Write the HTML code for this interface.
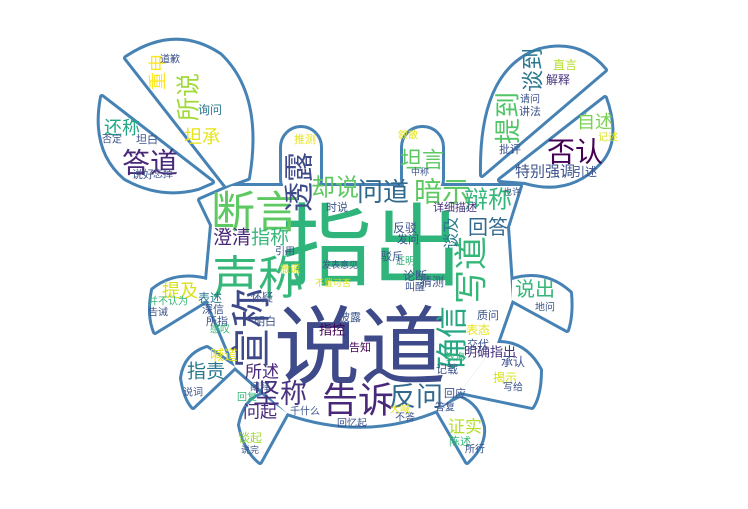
<!DOCTYPE html>
<html><head><meta charset="utf-8">
<style>
html,body{margin:0;padding:0;background:#fff;width:748px;height:509px;overflow:hidden}
svg{display:block}
text{font-family:"Liberation Sans","Noto Sans CJK SC","WenQuanYi Zen Hei",sans-serif;dominant-baseline:central;text-anchor:middle}
</style></head>
<body>
<svg id="cloud" width="748" height="509" viewBox="0 0 748 509">
<defs>
<g id="crab">
<path d="M232,186 L520,186 L507,227 L512,300 L497,343 L460,392 L437,410 Q365,440 287,413 L235,367 L207,300 L207,280 L212,225 L200,200 Z"/>
<rect x="282" y="128" width="38" height="70" rx="19"/>
<rect x="403" y="128" width="39" height="70" rx="19"/>
<path d="M226,186 L126,58 Q175,25 220,55 Q262,95 248,178 Z"/>
<path d="M212,182 L102,97 Q92,150 125,178 Q160,198 198,188 Z"/>
<path d="M482,175 Q480,70 540,50 Q580,40 605,70 Z"/>
<path d="M500,180 L605,98 Q620,140 600,162 Q570,195 525,182 Z"/>
<path d="M207,280 Q175,272 153,290 Q148,315 155,332 L207,300 Z"/>
<path d="M207,348 Q185,355 182,378 Q185,398 193,407 L235,367 Z"/>
<path d="M262,395 Q245,400 240,425 Q245,450 260,462 L287,413 Z"/>
<path d="M437,410 L467,462 Q485,445 483,427 Q478,405 460,398 Z"/>
<path d="M497,343 Q525,342 540,370 Q540,395 532,407 L460,392 Z"/>
<path d="M512,280 Q545,270 570,293 Q572,315 567,330 L512,300 Z"/>
</g>
</defs>
<g stroke="#4682b4" stroke-width="6" stroke-linejoin="round" fill="#4682b4"><use href="#crab"/></g>
<g fill="#fff"><use href="#crab"/></g>
<g id="words"></g>
</svg>
<script>
var words=[
["指出",372,248,90,"#2fb47c",0],["说道",360,348,86,"#3e4a89",0],["声称",258,278,46,"#35b779",0],
["断言",255,213,44,"#5ec962",0],["宣称",252,328,40,"#3e4989",1],["告诉",358,400,36,"#482878",0],
["坚称",280,394,27,"#46327e",0],["反问",416,397,27,"#31688e",0],["确信",452,338,32,"#26a784",1],
["写道",472,270,34,"#35b779",1],["透露",300,182,30,"#3e4a89",1],["问道",383,192,26,"#31688e",0],
["却说",335,188,24,"#5ec962",0],["暗示",442,192,28,"#5ec962",0],["辩称",488,200,24,"#35b779",0],
["坦言",422,160,22,"#5ec962",0],["提到",508,118,26,"#52c569",1],["谈到",533,70,22,"#2a788e",1],
["否认",575,152,28,"#440154",0],["自述",595,122,18,"#7ad151",0],["特别强调",545,172,15,"#3b528b",0],
["回答",488,228,20,"#31688e",0],["说出",535,290,20,"#35b779",0],["所说",189,97,24,"#a0da39",1],
["重申",158,72,18,"#fde725",1],["坦承",202,137,18,"#e5e419",0],["还称",122,128,18,"#22a884",0],
["答道",150,163,28,"#482878",0],["澄清",232,238,19,"#482878",0],["指称",270,238,19,"#35b779",0],
["提及",180,291,18,"#d8e219",0],["指责",206,372,19,"#2a788e",0],["所述",262,372,17,"#482878",0],
["证实",465,427,17,"#b5de2b",0],["明确指出",490,352,13,"#46327e",0],["喊道",224,355,14,"#e5e419",0],
["问起",260,412,17,"#482878",0],["谈及",452,233,16,"#2a788e",1],["解释",558,80,12,"#46327e",0],
["直言",565,65,12,"#b5de2b",0],["批评",510,150,11,"#3b528b",0],["引述",585,172,12,"#3b528b",0],
["详细描述",455,208,11,"#46327e",0],["反驳",405,228,12,"#3b528b",0],["发问",408,240,11,"#3b528b",0],
["驳斥",392,257,11,"#3b528b",0],["证明",405,262,10,"#35b779",0],["论断",415,276,12,"#3b528b",0],
["猜测",432,282,12,"#3b528b",0],["叫醒",415,288,10,"#3b528b",0],["表述",210,298,12,"#2a788e",0],
["并不认为",168,302,10,"#35b779",0],["告诫",158,313,10,"#3b528b",0],["深信",213,310,11,"#3b528b",0],
["所指",217,322,11,"#3b528b",0],["怀疑",262,298,11,"#3b528b",0],["明白",265,322,11,"#3b528b",0],
["披露",350,318,11,"#3b528b",0],["指控",332,330,13,"#440154",0],["告知",360,348,11,"#440154",0],
["表态",478,330,12,"#e5e419",0],["交代",478,345,11,"#3b528b",0],["质问",488,316,11,"#3b528b",0],
["承认",513,362,12,"#3b528b",0],["揭示",505,378,12,"#d8e219",0],["记载",447,370,11,"#3b528b",0],
["回应",455,394,11,"#3b528b",0],["陈述",460,442,11,"#35b779",0],["谈起",250,438,12,"#a0da39",0],
["说词",193,393,10,"#3b528b",0],["回忆起",352,424,10,"#3b528b",0],["不答",405,418,10,"#3b528b",0],
["发表意见",340,265,9,"#3b528b",0],["不置可否",333,283,9,"#d8e219",0],["询问",210,110,12,"#2a788e",0],
["道歉",170,60,10,"#3b528b",0],["坦白",147,140,11,"#3b528b",0],["否定",112,140,10,"#3b528b",0],
["说好",143,175,11,"#3b528b",0],["忘掉",163,175,10,"#3b528b",0],["推测",305,140,11,"#e5e419",0],
["时说",337,208,11,"#3b528b",0],["引用",285,252,10,"#3b528b",0],["撒谎",290,270,10,"#d8e219",0],
["叙散",408,136,10,"#e5e419",0],["中称",420,172,9,"#3b528b",0],["也许",512,192,9,"#3b528b",0],
["讲法",530,112,11,"#3b528b",0],["请问",530,100,10,"#3b528b",0],["记述",608,138,10,"#d8e219",0],
["所行",475,450,10,"#3b528b",0],["写给",513,388,10,"#3b528b",0],["感叹",220,330,10,"#35b779",0],
["回复",247,398,10,"#35b779",0],["教诲",455,358,10,"#35b779",0],["千什么",305,412,10,"#3b528b",0],
["阐释",260,388,10,"#3b528b",0],["大喊",400,410,10,"#e5e419",0],["答复",445,408,10,"#3b528b",0],
["地问",545,308,10,"#3b528b",0],["说完",250,450,9,"#3b528b",0]
];
var g=document.getElementById('words');
var ns='http://www.w3.org/2000/svg';
for(var i=0;i<words.length;i++){
  var w=words[i];
  var t=document.createElementNS(ns,'text');
  
  
  t.setAttribute('x',w[1]);t.setAttribute('y',w[2]);
  t.setAttribute('font-size',w[3]);t.setAttribute('fill',w[4]);
  if(w[5])t.setAttribute('transform','rotate(-90 '+w[1]+' '+w[2]+')');
  t.textContent=w[0];
  g.appendChild(t);
}
</script>
</body></html>
